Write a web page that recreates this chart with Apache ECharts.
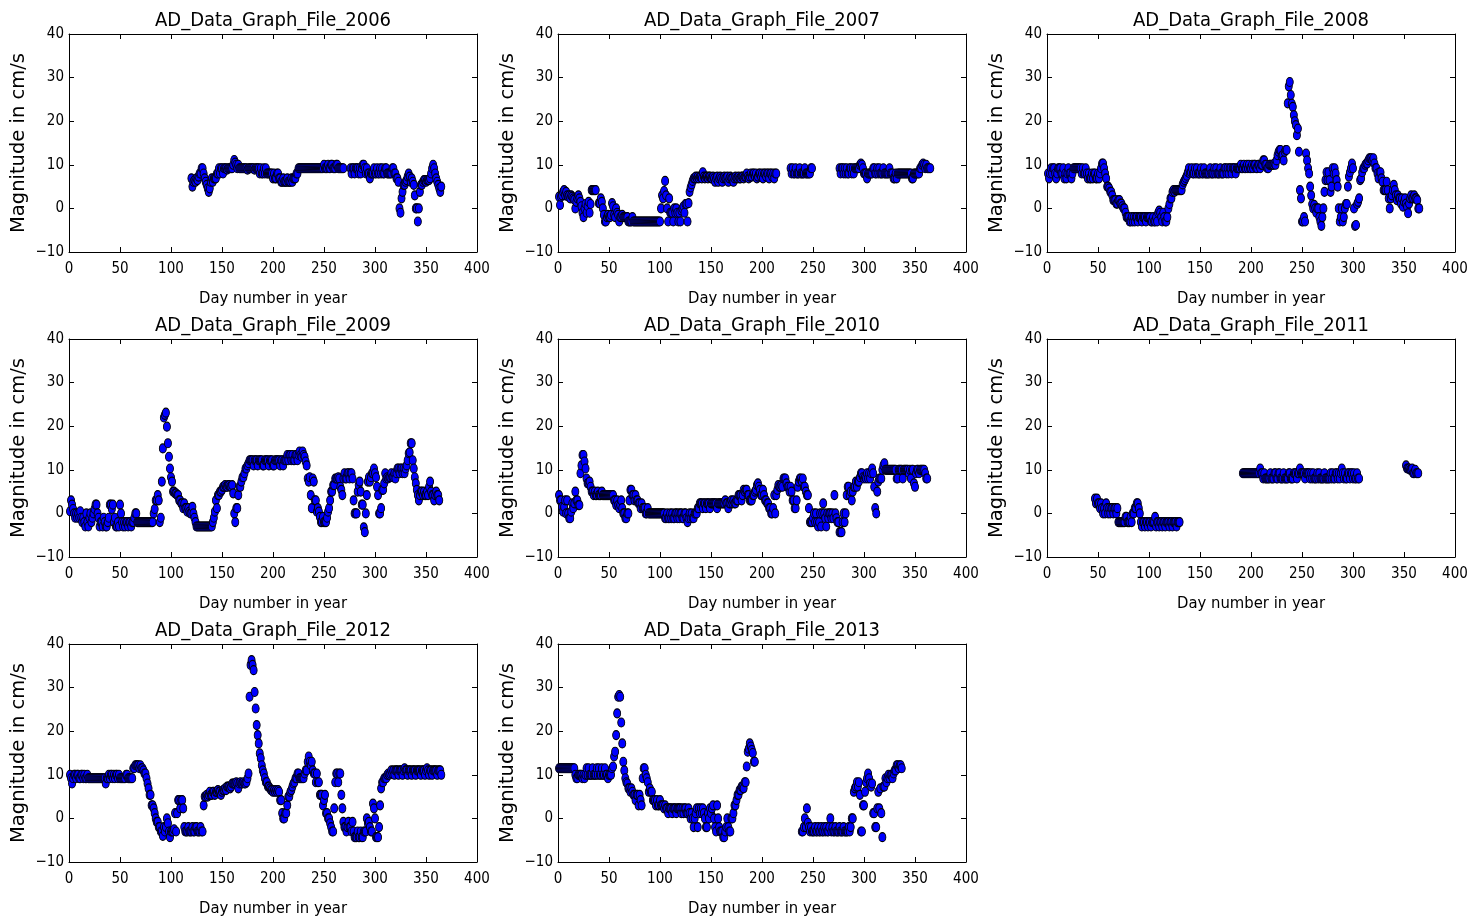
<!DOCTYPE html>
<html>
<head>
<meta charset="utf-8">
<script src="https://cdn.jsdelivr.net/npm/echarts@6/dist/echarts.min.js"></script>
<style>
html,body{margin:0;padding:0;background:#fff;}
#chart{width:1478px;height:923px;}
</style>
</head>
<body>
<div id="chart"></div>
<script>
// ---- Data: each year is a list of [startDay, [daily magnitudes...]] segments (null = no reading)
const titles = ['AD_Data_Graph_File_2006','AD_Data_Graph_File_2007','AD_Data_Graph_File_2008','AD_Data_Graph_File_2009',
                'AD_Data_Graph_File_2010','AD_Data_Graph_File_2011','AD_Data_Graph_File_2012','AD_Data_Graph_File_2013'];
const xLabel = 'Day number in year';
const yLabel = 'Magnitude in cm/s';
const xTicks = [0, 400, 50];   // min, max, step
const yTicks = [-10, 40, 10];

const mag2006 = [
 [120,[6.9,5.0,6.1,6.5,6.1,6.9,6.5,7.3,8.0,8.0,9.2,9.2,8.0,6.9,6.1,5.4,4.6,3.8,4.6,6.1,6.9,6.1,6.9,6.9,6.9,8.0,8.0,9.2,8.0,9.2,9.2,8.0,9.2,9.2,9.2,8.9,9.2,9.2,9.2,9.2,9.2,10.0,11.1,10.5,10.0,9.2,10.0,9.2]],
 [168,[9.2,9.2,9.2,9.2,9.2,9.2,9.2,8.9,9.2,9.2,9.2,9.2,9.2,9.2,8.9,9.2,9.2,9.2,9.2]],
 [187,[8.0,9.2,8.0,8.0,9.2,8.0,9.2,8.0,8.0,8.0,8.0,8.0,8.0]],
 [200,[6.9,8.0,6.9,6.9,8.0,8.0,6.9]],
 [207,[6.9,6.1,6.1,6.9,6.1,6.1,6.1,6.9,6.1,6.1,6.1,6.9,6.1,6.9,6.9,6.9]],
 [223,[8.0,8.0,9.2]],
 [226,[9.2,9.2,9.2,9.2,9.2,9.2,9.2,9.2,9.2,9.2,9.2,9.2,9.2,9.2,9.2,9.2,9.2,9.2,9.2,9.2,9.2,9.2,9.2]],
 [249,[9.2,10.0,9.2,9.2,9.2,10.0,9.2,9.2,10.0,10.0,9.2,9.2,9.2,10.0,10.0,9.2,9.2,9.2,9.2,9.2,9.2]],
 [276,[9.2,8.0,9.2,9.2,8.0,9.2,9.2,9.2,8.0,9.2,8.0,9.2,10.0,10.0,9.2,8.0,9.2,8.0,8.0,6.9,8.0,8.0,8.0,9.2,8.0,8.0,9.2,8.0,8.0,9.2,8.0,9.2,8.0,8.0,9.2,9.2,8.0,8.0,8.0,8.0,8.0,9.2]],
 [318,[9.2,8.0,8.0,6.9,6.9,6.1,0.0,-1.0,2.3,3.8,5.4,5.4,6.1,6.5,7.3,8.0,7.3,6.1,6.9,6.1,5.4,3.0,0.0,0.0,-3.0,0.0,3.8,5.4,5.4,6.1,6.5,6.5,6.1,6.5,6.5,6.5,6.9,8.0,9.2,10.0,9.2,8.0,6.9,6.1,5.4,4.6,3.8,5.0]]
];

const mag2007 = [
 [1,[2.7,0.8,2.7,3.0,3.8,4.2,3.0,3.8,3.0,2.7,3.0,2.3,3.0,2.7,2.3,2.0,0.0,1.5,2.3,3.0,2.3,1.5,0.5,-1.0,-2.0,0.0,1.0,-1.0,0.5,1.5,-1.0,1.0,4.2,4.2,4.2,4.2,4.2]],
 [40,[1.2,1.2,2.3,1.5,0.0,-1.5,-3.0,-3.0,-2.0,-1.5,-2.0,-2.0,-1.5,1.2,0.5,-1.5,-2.0,0.0,-1.0,-1.5,-3.0,-2.0,-2.0,-1.5,-2.0,-2.0,-2.0,-2.0,-2.0,-3.0,-3.0]],
 [71,[-3.0,-3.0,-2.0,-3.0,-3.0,-3.0,-3.0,-3.0,-3.0,-3.0,-3.0,-3.0,-3.0,-3.0,-3.0,-3.0,-3.0,-3.0,-3.0,-3.0,-3.0,-3.0,-3.0,-3.0,-3.0,-3.0,-3.0,-3.0,-3.0,-3.0]],
 [101,[0.0,3.0,2.3,4.0,6.3,3.0,0.0,-3.0,2.3,-1.0,-1.0,-1.0,-3.0,0.0,-1.0,0.0,-1.0,-3.0,-1.0,-3.0,-0.5,0.0,0.5,-1.0,1.0,1.0,-3.0,1.2,3.8,4.8,5.5,6.3,6.9]],
 [134,[6.9,7.3,6.9,7.3,6.9,7.3,7.3,6.9,8.3,7.3,6.9,7.3,7.3,6.9,7.3,7.3,6.9,6.9,7.3]],
 [153,[6.9,6.1,6.9,7.3,6.1,6.9,7.3,6.9,6.1,6.9,7.3,6.9,6.9,7.3,6.1,6.9,7.3,6.9,6.9,6.1,6.9,7.3,6.9,6.9,7.3,6.9,6.9,7.3]],
 [181,[7.3,6.9,7.3,7.3,8.0,7.3,6.9,7.3,8.0,7.3,8.0,8.0,7.3,8.0,6.9,7.3,8.0,8.0,7.3,8.0,6.9,8.0,8.0,7.3,8.0,8.0,6.9,8.0,8.0,7.3,8.0,6.9,8.0,8.0]],
 [228,[9.2,8.0,9.2,8.0,8.0,9.2,8.0,8.0,8.0,9.2,8.0,8.0,8.0,8.0,9.2,8.0,8.0,8.0,8.0,8.0,9.2,9.2]],
 [276,[9.2,8.0,9.2,9.2,8.0,9.2,8.0,9.2,8.0,8.0,9.2,9.2,8.0,9.2,8.0,9.2,9.2,9.2,9.2,9.2,10.0]],
 [297,[10.3,10.0,9.2,8.0,8.0,8.0,6.9,8.0,8.0,8.0,8.0,8.0,9.2,9.2,8.0,8.0,9.2,8.0,9.2,8.0,8.0,8.0,9.2,8.0,8.0,8.0,8.0,8.0,9.2,8.0,8.0,8.0,6.9,6.9,8.0,6.9,8.0,8.0,8.0,8.0,8.0,8.0,8.0,8.0,8.0,8.0,8.0,8.0,8.0,8.0,6.9,6.9,8.0,8.0,8.0,8.0]],
 [353,[8.0,8.0,9.2,9.2,10.0,10.3,10.0,9.2,10.0,9.2,9.2,9.2,9.2]]
];

const mag2008 = [
 [1,[8.0,6.9,8.0,9.2,8.0,9.2,9.2,8.0,6.9,8.0,9.2,9.2,9.2,8.0,8.0,9.2,6.9,8.0,6.9,8.0,9.2,8.0,8.0,6.9,8.0,9.2,9.2,9.2,9.2,9.2,9.2,9.2,9.2,8.0,9.2,8.0,8.0,9.2,8.0,6.9,8.0,6.9,6.9,8.0,6.9,8.0,8.0,6.9,6.9,8.0,6.9,8.0]],
 [53,[9.2,10.3,10.3,9.2,8.0,6.9,5.0,5.0,4.6,3.8,3.8,3.0,1.9,1.9,1.9,1.1,1.1,1.9,1.9,1.1,1.1,0.5,0.0,0.0,-1.0,-2.0,-2.0,-2.0,-3.0,-3.0,-2.0]],
 [84,[-3.0,-2.0,-3.0,-2.0,-2.0,-3.0,-2.0,-2.0,-2.0,-3.0,-2.0,-2.0,-2.0,-3.0,-2.0,-2.0,-2.0,-2.0,-3.0,-3.0,-2.0,-3.0,-3.0,-2.0,-3.0,-1.0,-0.5,-1.0,-2.0,-3.0]],
 [114,[-1.0,-2.0,-3.0,-3.0,-2.0,0.0,1.0,2.3,2.3,3.8,4.2,3.8,4.2,4.2,4.2,4.2,4.2,4.2,4.2,5.5,6.1,6.5,7.0,7.5,8.3,9.2]],
 [140,[8.0,8.3,9.2,8.0,8.0,9.2,8.0,9.2,8.0,8.0,8.0,9.2,8.0,8.0,9.2,8.0,8.0,8.0,8.0,8.0,9.2,8.0,8.0,8.0,9.2,8.0,9.2,8.0,8.0,8.0,9.2,8.0,8.0,8.0,9.2,9.2,8.0,9.2,8.0,9.2,9.2,8.0,9.2,9.2,9.2,8.0,9.2,9.2,9.2]],
 [189,[9.2,10.0,9.2,9.2,10.0,9.2,9.2,10.0,9.2,10.0,9.2,9.2,10.0,9.2,10.0,10.0,9.2,9.2,10.0,10.0,9.2,10.0,10.0,11.0,11.0,10.0,10.0,9.2,9.2,10.0,10.0,10.0,10.0]],
 [222,[10.0,10.3,10.0,11.0,12.2,13.0,13.4,13.4,12.0,12.2,11.0,13.0,13.4]],
 [235,[13.4,24.1,28.0,29.0,26.0,24.0,23.3,21.4,20.0,19.1,16.8,18.3,13.0,4.2,2.3,-3.0,-3.0,-2.0,-3.0,12.6,11.0,9.2,8.0,5.0,3.0,1.0,0.0,0.8,0.0,-1.0,0.0,0.0,-2.0,-3.0,-4.0,-2.0,0.0]],
 [272,[3.8,6.5,8.3,6.5,8.3,6.5,3.8,5.0,9.2,8.0,9.2,8.0,6.5]],
 [285,[5.0,0.0,-3.0,-2.0,0.0,-3.0,-2.0,0.0,1.0,1.0,5.0,7.3,8.3,9.2,10.3,9.2,0.0,-4.0,-3.8,1.0,1.5,2.3,6.5,6.9,8.3,9.2,9.2,10.0,10.3,10.3,11.0,11.5,11.5,11.5,11.0,11.5,10.3,9.2,9.2,8.0,6.9,8.3,8.3,6.9,6.1,4.2,4.2,4.2,6.1,4.2,2.3,0.0,2.3,3.0,4.2,5.4,4.2,3.0,1.9,3.0,2.3,2.3,1.1,2.3,0.4,1.5,2.3,1.1,0.4,-1.1,1.1,2.3,3.0,2.3,2.3,3.0,2.3,2.3,1.9,0.0,0.0]]
];

const mag2009 = [
 [1,[0.5,3.0,2.0,1.0,0.0,-1.0,0.0,-1.0,0.0,-1.0,0.5,-1.0,-2.0,-1.0,-2.0,-3.0,0.0,-2.0,-3.0,-1.0,0.0,-2.0,-1.0,0.0]],
 [25,[1.0,2.0,2.0,0.0,-1.0,-3.0,-2.0,-2.0,-3.0,-1.0,-2.0,-3.0,-3.0,-2.0,-1.0,2.0,2.0,1.0,2.0,-2.0,-1.0,-3.0,-3.0,-2.0,-3.0,2.0]],
 [51,[0.0,-2.0,-3.0,-2.0,-3.0,-2.0,-2.0,-3.0,-2.0,-2.0,-3.0,-2.0,-2.0,-1.0,0.0,0.0,-2.0,-2.0,-2.0,-2.0,-2.0,-2.0,-2.0,-2.0,-2.0,-2.0,-2.0,-2.0,-2.0,-2.0,-2.0,-2.0,0.0,1.0,3.0,3.0,4.2,3.0,-2.0,-1.0]],
 [91,[7.3,14.9,22.0,22.6,23.1,19.9,16.1,13.0,10.3,8.3,7.3,5.0,5.0,4.6,4.6,4.2,4.2,3.0,3.0,2.3,2.3,1.2,2.3,1.2,1.2,0.4,1.2,0.4,0.0,0.0,1.5,0.0,-1.0,-2.0,-3.0]],
 [126,[-3.0,-3.0,-3.0,-3.0,-3.0,-3.0,-3.0,-3.0,-3.0,-3.0,-3.0,-3.0,-3.0,-3.0,-3.0,-2.0,-1.0]],
 [143,[0.4,3.0,1.2,4.2,4.2,5.0,5.0,5.4,6.1,6.1,6.5,6.1,6.1,6.5,6.5,6.1,6.1,6.5,4.6,0.0,-2.0,1.2,1.2,4.2,6.1,6.1,7.3,8.3,8.3,9.2,10.3,10.3,11.0,11.5,12.2,12.2]],
 [179,[12.2,12.2,11.0,12.2,12.2,12.2,11.0,12.2,12.2,12.2,12.2,11.0,11.0,12.2,12.2,12.2,12.2,11.0,12.2,12.2,12.2,11.0,11.0,12.2,12.2,12.2,12.2,12.2,11.0,12.2,12.2,11.0,12.2,12.2]],
 [213,[12.2,13.4,12.2,13.4,13.4,12.2,13.4,12.2,12.2,13.4,13.4,12.2,13.4,14.2,13.4,13.0,14.2,13.4,13.0,11.9,11.0,8.0,7.3]],
 [236,[8.3,4.2,1.2,8.0,7.3,3.0,3.0,0.4,1.2,0.4,-0.8,-2.0,-2.0,-0.8,-2.0,-2.0,-2.0,-1.0,0.4,1.2,3.0,5.0,5.0,6.5,6.5,8.0,8.0,8.0,8.3,8.0,6.1,5.4,4.2,8.0,9.2,8.0,8.0,9.2,9.2,8.0,9.2,9.2,8.0,3.0]],
 [280,[0.0,0.0,0.0,5.0,6.5,7.3,5.0,2.0,2.0,-3.2,-4.3,0.0,4.2,7.3,8.3,7.3,8.3,9.2,9.2,10.3,9.2,8.3,6.1,4.2,0.0,0.0,1.2,5.4,5.4,6.9,9.2,8.0,8.3,8.0,8.3,8.3,9.2,8.3,8.3,9.2,8.0,9.2,10.3,10.3,9.2,10.3,10.3,9.2,10.3,9.2,10.3,11.0,12.2,13.8,14.0,16.1,16.1,12.2,10.3,8.3,6.9,5.4,4.2,3.0,4.2,5.0,5.0,4.2,5.0,4.2,4.2,5.0,4.2,6.1,7.3,5.0,4.2,4.2,3.0,4.2,5.0,4.2,4.2,3.0]]
];

const mag2010 = [
 [1,[4.2,3.0,3.0,1.5,0.4,1.5,3.0,0.0,3.0,0.0,-1.1,-1.1,0.4,2.3,1.2,2.3,5.0,3.0,3.0,1.9,1.9,9.2,11.0,13.4,13.4,11.9,10.3,8.0,6.9,6.9,7.3,6.1,5.0,5.0]],
 [35,[4.2,5.0,4.2,4.2,5.0,4.2,4.2,4.2,5.0,4.2,4.2,4.2,4.2,4.2,4.2,4.2,4.2,4.2,4.2,4.2,3.0]],
 [56,[3.0,1.9,3.0,1.9,1.2,1.9,3.0,1.2,0.0,0.0,-1.1,-1.1,0.0,0.0,3.0]],
 [71,[5.4,5.4,4.2,4.2,3.0,4.2,3.0,3.0,2.3,2.3,1.2,2.3,1.2,1.2,1.2,0.0,0.0,1.2,0.0,0.0,0.0]],
 [92,[0.0,0.0,0.0,0.0,0.0,0.0,0.0,0.0,0.0,0.0,0.0,0.0,0.0]],
 [105,[-1.1,-1.1,0.0,-1.1,-1.1,0.0,-1.1,0.0,-1.1,-1.1,0.0,0.0,-1.1,0.0,-1.1,0.0,0.0,-1.1,-1.1,0.0,0.0,-1.1,-2.0,-1.1,0.0,-1.1,0.0,-1.1,-1.1,0.0,0.0,0.0,1.2,1.2,2.3,2.3]],
 [141,[2.3,1.2,2.3,2.3,1.2,2.3,2.3,2.3,1.2,2.3,2.3,2.3,2.3,2.3,2.3,1.2,2.3,2.3,2.3,2.3,2.3,2.3,2.3,3.0,2.3,2.3,1.2,2.3,2.3,3.0,2.3,3.0,2.3,2.3,3.0]],
 [176,[3.0,4.2,4.2,4.2,3.0,4.2,5.4,5.0,5.4,5.4,4.2,4.2,3.0,3.0,3.0,4.2,4.2,5.0,5.4,6.5,6.9,6.1,5.4,4.2,4.2,5.4,4.2,3.0,3.0,2.3,2.3,1.2,1.2,0.0,0.0,1.2,4.2]],
 [213,[0.0,4.2,5.4,6.5,6.1,6.1,6.5,6.1,8.0,8.0,8.0,6.9,6.1,6.1,5.0,6.1,5.0,3.0,3.0,1.2,1.2,3.0,6.1,7.3,8.0,8.0,7.3,8.0,6.1,6.1,5.0,4.2,4.2,1.2,-2.0]],
 [248,[-2.0,-2.0,-1.0,0.0,-2.0,0.0,-2.0,-3.0,-2.0,0.0,-3.0,0.0,2.3,0.0,-1.1,-3.0,0.0,-1.1,0.0,0.0,-1.1,0.0,-1.1,4.2,0.0,-1.1,-2.0,-2.0,-4.3,-4.3,-4.3,-2.0,0.0,-2.0,0.0,4.2]],
 [284,[6.1,6.1,4.2,5.0,3.0,5.0,6.1,6.1,7.3,6.1,7.3,7.3,8.3,9.2,9.2,8.3,8.0,8.3,8.0,9.2,8.0,9.2,8.0,9.2,10.3,9.2,6.1,1.2,0.0,5.0,7.3,8.0,8.0,8.0,10.0,11.0,11.5,10.0]],
 [322,[10.0,10.0,10.0,10.0,10.0,10.0,10.0,10.0,10.0,10.0,8.0,8.0,10.0,10.0,10.0,10.0,8.0,10.0,10.0,10.0,10.0,10.0,9.2,10.0,8.0,10.0,10.0,6.9,6.1,9.2,10.0,10.0,9.2,10.0,10.0,10.0,10.0,10.0,9.2,8.0,8.0]]
];

const mag2011 = [
 [47,[3.4,2.3,3.4,2.3,2.3,1.2,2.3,1.2,0.0,1.2,0.0,2.3,1.2,0.0,1.2,0.0,1.2,1.2,0.0,1.2,1.2,0.0,1.2,-2.0,-2.0,-2.0,-2.0,-2.0,-2.0,-2.0,-0.8,-0.8,-2.0,-2.0,-2.0,-0.8,-2.0,0.0,0.0,1.2,1.2,2.3,2.3,1.2,0.0,-2.0,-3.0,-2.0]],
 [95,[-2.0,-3.0,-2.0,-2.0,-3.0,-2.0,-2.0,-3.0,-2.0,-2.0,-2.0,-0.8,-3.0,-2.0,-2.0,-3.0,-2.0,-2.0,-3.0,-2.0,-2.0,-3.0,-2.0,-2.0,-2.0,-3.0,-2.0,-2.0,-3.0,-2.0,-2.0,-2.0,-3.0,-2.0,-2.0,-2.0]],
 [192,[9.2,9.2,9.2,9.2,9.2,9.2,9.2,9.2,9.2,9.2,9.2,9.2,9.2,9.2,9.2,9.2,9.2,10.3,9.2,9.2,8.0,9.2,8.0,8.0]],
 [216,[8.0,8.0,8.0,9.2,8.0,8.0,8.0,9.2,9.2,8.0,8.0,9.2,9.2,8.0,8.0,8.0,9.2,8.0,8.0,8.0,8.0,9.2,9.2,8.0,8.0,8.0,9.2,9.2,9.2,8.0,9.2,9.2,10.3,9.2]],
 [250,[9.2,9.2,9.2,8.0,9.2,9.2,9.2,9.2,8.0,9.2,8.0,9.2,8.0,8.0,8.0,9.2,8.0,9.2,8.0,8.0,8.0,8.0,9.2,8.0,8.0,8.0,8.0,8.0,9.2,8.0,9.2,8.0,8.0,9.2,9.2,8.0,9.2,8.0,9.2,10.3,9.2,8.0,9.2,8.0,8.0,9.2,9.2,8.0,9.2,9.2,8.0,9.2,8.0,8.0,9.2,8.0,8.0]],
 [352,[11.0,10.3,10.3,10.3,10.0,10.0,10.3,9.2,9.2,10.0,9.2,9.2,9.2]]
];

const mag2012 = [
 [1,[10.0,9.2,8.0,9.2,10.0,10.0,9.2,10.0,10.0,9.2,9.2,10.0,10.0,9.2,10.0,9.2,9.2,10.0,9.2,9.2,9.2,9.2,9.2,9.2,9.2,9.2,9.2,9.2,9.2,9.2,9.2,9.2,9.2,9.2,9.2,8.0,9.2,9.2,10.0,9.2,10.0,10.0,9.2,10.0,9.2,10.0,10.0,9.2,10.0,9.2,9.2,9.2,9.2,9.2,9.2,10.0,10.0,9.2,9.2,9.2,9.2]],
 [62,[9.2,11.5,11.5,12.2,12.2,12.2,12.2,11.5,12.2,11.5,11.5,11.0,10.3,10.3,9.2,8.0,6.9,5.4,5.4,3.0,3.0,2.3,1.2,0.0,-0.8,-0.8,-2.0]],
 [89,[-2.0,-3.0,-3.0,-4.0,-2.0,-3.0,-2.0,0.0,-1.1,-3.0,-4.3,-3.0,-3.0,-3.0,-2.5,1.2,-3.0]],
 [106,[1.2,4.2,4.2,2.3,4.2,4.2,2.3,-2.0,-3.0]],
 [115,[-3.0,-3.0,-2.0,-3.0,-3.0,-3.0,-2.0,-3.0,-3.0,-2.0,-2.0,-3.0,-3.0,-3.0,-2.0,-3.0,-3.0,3.0]],
 [133,[5.0,5.0,5.4,5.0,5.4,6.1,5.4,5.4,6.1,6.1,5.4,6.1,6.1,6.5,6.1,6.1,5.4,6.1,6.5,6.5,6.9,6.5,7.3,7.3,7.3,6.9,7.3,8.0,8.0,8.0,8.0,8.3,8.0,6.9,8.0,8.3,8.0,8.0,8.3,8.0,8.0,8.3,9.2,10.3]],
 [177,[27.9,35.2,36.3,35.2,34.0,29.0,25.2,21.4,19.1,17.2,14.9,13.8,12.2,11.0,10.3,9.2,8.3,8.3,7.3,7.3,6.9,6.5,6.5,6.1,6.5,6.1,6.5,6.1,6.5,6.1,4.2,4.2,1.2,0.0]],
 [211,[0.0,1.2,1.2,3.0,5.0,5.0,6.1,6.5,7.3,8.0,8.3,9.2,9.2,10.3,10.3,9.2,9.2,9.2,9.2,9.2,10.3,11.0,11.0,13.0,14.2,13.0,12.2,13.0,11.0,10.3]],
 [241,[10.3,8.3,10.3,8.3,8.3,5.4,5.4,5.4,3.0,4.2,5.4,1.2,1.2,0.0,0.0,-1.1,-2.0,-3.0,-3.0,2.3,8.3,10.3,10.3,8.3,10.3,10.3,5.4,2.3,-0.8,-2.0,-2.0,-3.0,-2.0,-0.8,-2.0]],
 [276,[-2.0,-3.0,-0.8,-3.0,-4.3,-4.3,-4.3,-3.0,-4.3,-4.3,-3.0,-4.3,-4.3,-3.0,-3.0,-3.0,0.0,-1.1,-0.8,-2.0,-3.0,-3.0,3.4,2.3,0.0,-4.3,-4.3,-4.3,-2.0,3.0,6.9,8.3,8.3,9.2,9.2]],
 [311,[9.2,10.0,10.3,10.0,10.3,11.0,10.3,11.0,10.0,11.0,11.0,11.0,10.0,11.0,11.0,11.0,10.0,11.0,11.5,11.0,11.0,10.0,11.0,11.0,11.0,10.0,11.0,11.0,11.0,10.0,11.0,11.0,11.0,11.0,10.0,11.0,11.0,11.0,10.0,11.0,11.5,11.0,10.0,11.0,11.0,10.0,11.0,11.0,11.0,11.0,10.0,11.0,11.0,11.0,10.0]]
];

const mag2013 = [
 [1,[11.5,11.5,11.5,11.5,11.5,11.5,11.5,11.5,11.5,11.5,11.5,11.5,11.5,11.5,11.5,11.5,10.0,9.2,9.2,10.0,10.0,10.0,10.0,9.2,10.0,9.2,10.0,11.5,10.0,11.5,10.0,10.0,10.0,11.5,10.0,10.0,10.0,11.5,10.0,11.5,10.0,10.0,11.5,10.0,10.0,11.5,10.0,10.0,9.2,10.0,10.0]],
 [52,[10.0,11.5,11.9,14.2,15.3,19.1,24.1,27.9,28.3,27.9,22.0,17.2,13.0,11.0,9.2,8.3,8.0]],
 [69,[6.9,6.9,6.1,6.9,6.1,5.4,5.4,4.2,5.4,5.4,3.0,5.4,4.2,3.0,9.2,11.5,11.5,10.0,9.2,8.3,6.1,6.9,6.1,6.1,4.2,4.2,4.2,3.0,4.2]],
 [98,[3.0,3.0,4.2,3.0,3.0,3.0,2.3,3.0,2.3,2.3,1.2,2.3,2.3,2.3,1.2,2.3,2.3,2.3,1.2,2.3,2.3,2.3,2.3,1.2,2.3,1.2,2.3,2.3,1.2,1.2,2.3,1.2,0.0,1.2,0.0,-2.0,0.0,1.2,2.3]],
 [137,[-2.0,2.3,1.2,2.3,1.2,2.3,1.2,0.0,-2.0,-2.0,1.2,0.0,2.3,1.2,2.3,3.0,0.0,-2.0,-3.0,3.0,0.0,-2.0,-3.0,-3.0,-3.0,-4.3,-4.3,-3.0,-2.0,0.0,-2.0,-3.0,-3.0,0.0,0.0,1.2,3.0,3.0,4.2,5.4,5.4,6.5,6.5,7.3,7.3,6.9,8.3,8.3,11.9,15.3,16.0,17.2,16.5,15.7,15.0,13.0,13.0]],
 [239,[-3.0,-3.0,-2.0,0.0,-2.0,2.3,-1.0,-2.0,-3.0,-2.0,-3.0,-3.0,-3.0,-2.0,-3.0,-3.0,-2.0,-3.0,-3.0,-2.0,-3.0,-3.0,-2.0,-3.0,-2.0,-3.0,-3.0,-2.0,0.0,-3.0,-2.0,-3.0,-3.0,-2.0,-3.0,-3.0,-3.0,-2.0,-3.0,-3.0,-3.0,-2.0,-3.0,-3.0,-3.0,-3.0,-2.0,-3.0,-2.0]],
 [288,[0.0,0.0,6.1,6.9,7.3,8.3,7.3,8.3,5.4,-3.0,-3.0,3.0,3.0,6.1,8.3,9.2,10.3,9.2,8.0,7.3,8.0,1.2,1.2,-2.0,-2.0,2.3,6.1,2.3,6.9,1.2,-4.3,7.3,7.3,9.2,8.3,9.2,10.0,9.2,10.0,10.0,9.2,10.3,11.0,11.0,12.2,12.2,11.5,12.2,12.2,11.5]]
];

const allYears = [mag2006, mag2007, mag2008, mag2009, mag2010, mag2011, mag2012, mag2013];

function toPoints(segs) {
  const pts = [];
  segs.forEach(function (seg) {
    const start = seg[0];
    seg[1].forEach(function (v, i) { if (v !== null) pts.push([start + i, v]); });
  });
  return pts;
}

// ---- Layout
const colLeft = [69, 558, 1047];
const rowTop = [34, 339, 644];
const gw = 408, gh = 218;
const narrow = "'Liberation Sans Narrow', 'DejaVu Sans Condensed', 'DejaVu Sans', sans-serif";

const grid = [], xAxis = [], yAxis = [], series = [], title = [];
allYears.forEach(function (segs, i) {
  const r = Math.floor(i / 3), c = i % 3;
  grid.push({left: colLeft[c], top: rowTop[r], width: gw, height: gh, containLabel: false});
  title.push({
    text: titles[i], left: colLeft[c] + gw / 2, top: rowTop[r] - 23, textAlign: 'center', padding: 0,
    textStyle: {fontFamily: narrow, fontSize: 20, fontWeight: 'normal', color: '#000'}
  });
  const axLine = {show: true, onZero: false, lineStyle: {color: '#000', width: 1}};
  const tick = {show: true, inside: true, length: 5, lineStyle: {color: '#000', width: 1}};
  xAxis.push({
    type: 'value', gridIndex: i, min: xTicks[0], max: xTicks[1], interval: xTicks[2], position: 'bottom',
    axisLine: axLine, axisTick: tick, splitLine: {show: false},
    axisLabel: {fontFamily: narrow, fontSize: 15, color: '#000', margin: 10},
    name: xLabel, nameLocation: 'middle', nameGap: 38,
    nameTextStyle: {fontFamily: narrow, fontSize: 16.5, color: '#000'}
  });
  xAxis.push({
    type: 'value', gridIndex: i, min: xTicks[0], max: xTicks[1], interval: xTicks[2], position: 'top',
    axisLine: axLine, axisTick: tick, splitLine: {show: false}, axisLabel: {show: false}
  });
  yAxis.push({
    type: 'value', gridIndex: i, min: yTicks[0], max: yTicks[1], interval: yTicks[2], position: 'left',
    axisLine: axLine, axisTick: tick, splitLine: {show: false},
    axisLabel: {fontFamily: narrow, fontSize: 15, color: '#000', margin: 5,
      formatter: function (v) { return String(v).replace('-', '\u2212'); }},
    name: yLabel, nameLocation: 'middle', nameGap: 40, nameRotate: 90,
    nameTextStyle: {fontFamily: "'DejaVu Sans', sans-serif", fontSize: 19.5, color: '#000'}
  });
  yAxis.push({
    type: 'value', gridIndex: i, min: yTicks[0], max: yTicks[1], interval: yTicks[2], position: 'right',
    axisLine: axLine, axisTick: tick, splitLine: {show: false}, axisLabel: {show: false}
  });
  series.push({
    type: 'scatter', xAxisIndex: 2 * i, yAxisIndex: 2 * i, data: toPoints(segs),
    symbol: 'circle', symbolSize: [7, 9],
    itemStyle: {color: '#0000ff', borderColor: '#000', borderWidth: 1, opacity: 1},
    emphasis: {disabled: true}, progressive: 0, large: false
  });
});

const chart = echarts.init(document.getElementById('chart'), null, {renderer: 'canvas'});
chart.setOption({
  backgroundColor: '#ffffff', animation: false,
  title: title, grid: grid, xAxis: xAxis, yAxis: yAxis, series: series
});
</script>
</body>
</html>
